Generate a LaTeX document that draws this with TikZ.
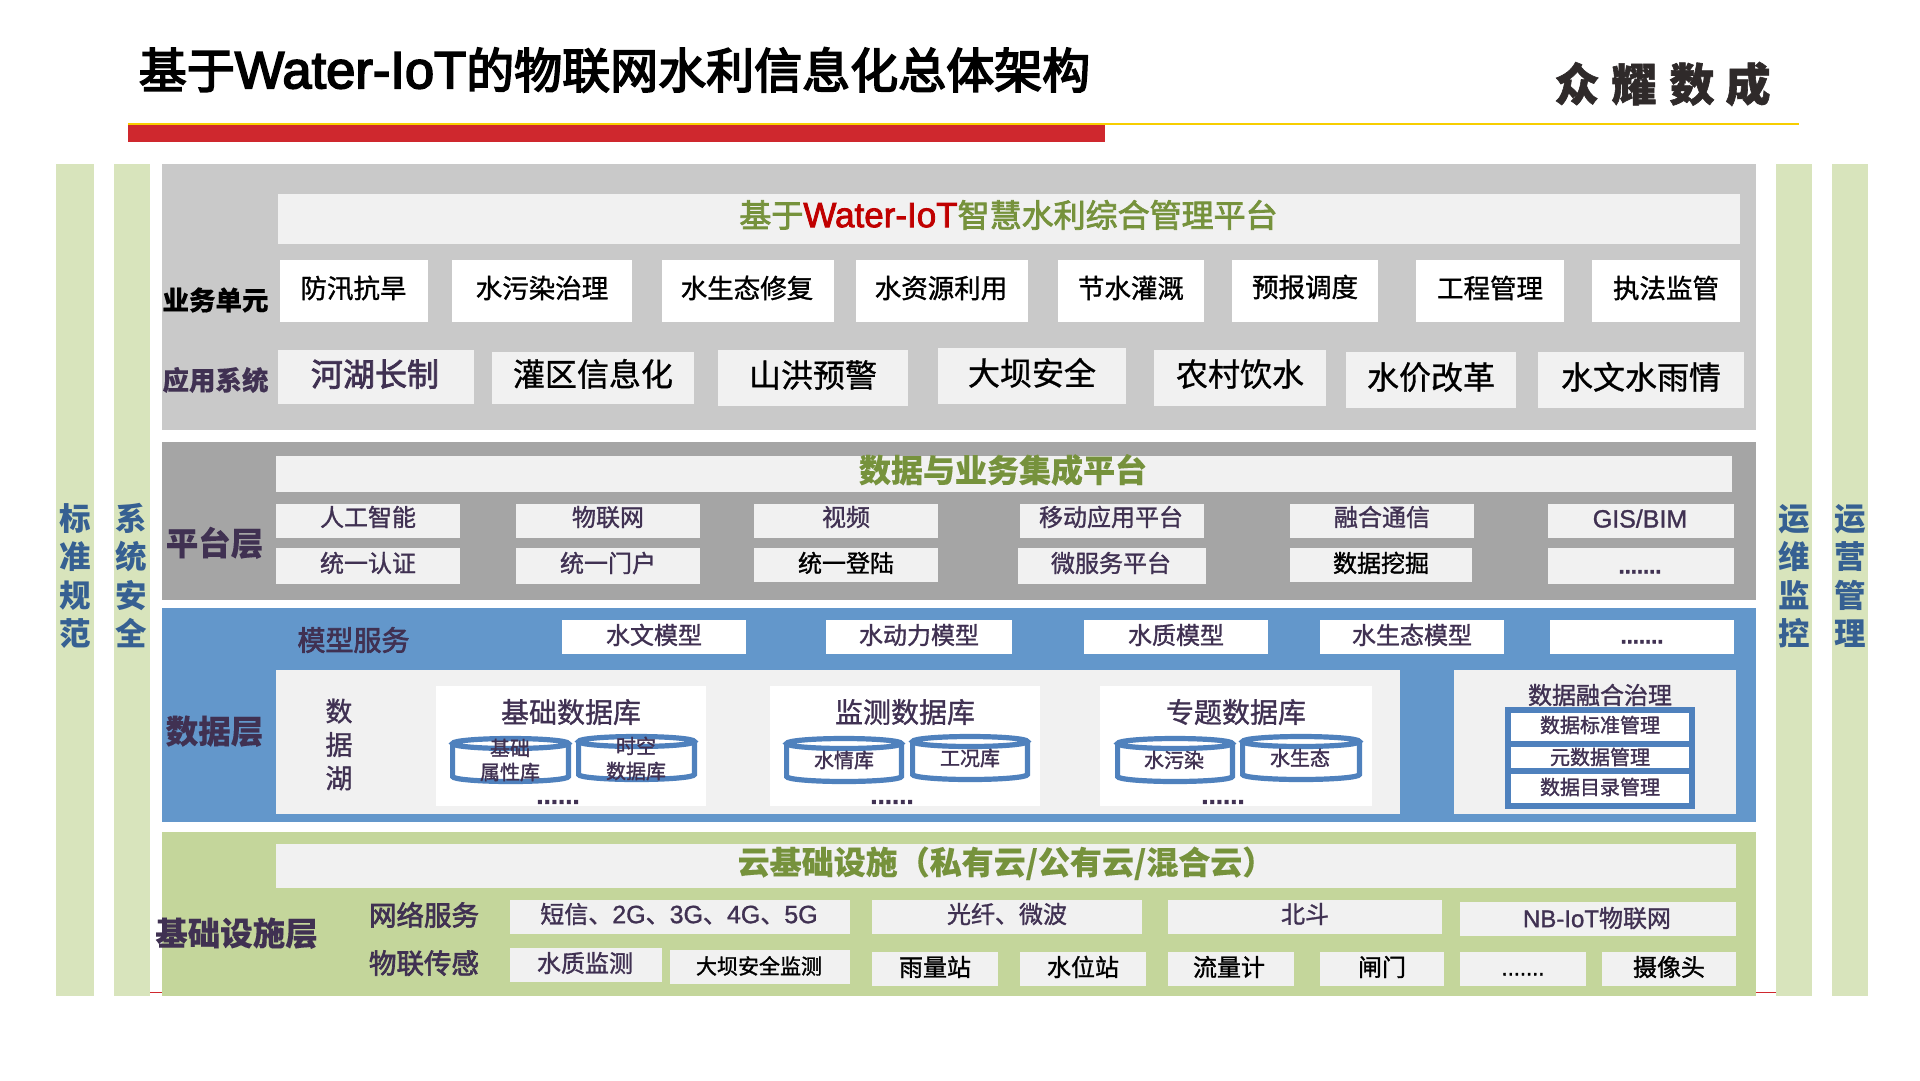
\documentclass[tikz,border=0pt]{standalone}
\usepackage{fontspec}
\setmainfont{Noto Sans CJK SC}
\newfontfamily\heavy{Noto Sans CJK SC Black}
\newfontfamily\lat{Liberation Sans}
\definecolor{sidegreen}{HTML}{D8E4BC}
\definecolor{panelgray}{HTML}{C9C9C9}
\definecolor{platgray}{HTML}{A5A5A5}
\definecolor{datablue}{HTML}{6397CB}
\definecolor{infragreen}{HTML}{C4D69B}
\definecolor{pale}{HTML}{F1F1F1}
\definecolor{ink}{HTML}{403152}
\definecolor{olive}{HTML}{76923C}
\definecolor{sideblue}{HTML}{366092}
\definecolor{cylblue}{HTML}{4F81BD}
\definecolor{barred}{HTML}{CF282E}
\definecolor{baryellow}{HTML}{F7CE00}
\definecolor{logoink}{HTML}{2F2A2A}
\definecolor{wred}{HTML}{C00000}
\tikzset{
  x=1pt,y=-1pt,
  bxs/.style={rectangle,draw=none,inner sep=0pt,outer sep=0pt},
  sidebar/.style={bxs,fill=sidegreen},
  paleb/.style={bxs,fill=pale},
  whiteb/.style={bxs,fill=white},
  txt/.style={inner sep=0pt,outer sep=0pt,text=ink,anchor=center},
  blk/.style={txt,text=black},
  cylring/.style={draw=cylblue,line width=5.2pt,fill=none},
}
\newcommand\wt[1]{\special{pdf:code #1 w}}
\newcommand\embon{\special{pdf:code 2 Tr 0.3 w}}
\newcommand\emboff{\special{pdf:code 0 Tr 1 w}}
\newcommand\st[1]{\rule[-.12em]{0pt}{1em}\smash{#1}}
\newcommand\bx[6]{\node[#6,minimum width={(#4-#2)*1pt},minimum height={(#5-#3)*1pt}] (#1) at ({(#2+#4)/2},{(#3+#5)/2}) {};}
\newcommand\tx[6]{\node[#4] (#1) at (#2,#3) {\fontsize{#5pt}{#5pt}\selectfont\embon\st{#6}\emboff};}
\newcommand\vtx[9]{\node[txt,align=center,#4,font={\fontsize{#5pt}{#6pt}\selectfont #7}] (#1) at (#2,#3) {#8\\#9};}
\newcommand\cyl[5]{%
  \pgfmathsetmacro\cxl{#1+2.6}\pgfmathsetmacro\cxr{#3-2.6}%
  \pgfmathsetmacro\cyt{#2+7.5}\pgfmathsetmacro\cyb{#4-7.5}%
  \pgfmathsetmacro\crx{(#3-#1)/2-2.6}%
  \draw[cylring] ({(#1+#3)/2},\cyt) ellipse [x radius=\crx,y radius=5];
  \draw[cylring] (\cxl,\cyt) -- (\cxl,\cyb) arc[start angle=180,end angle=360,x radius=\crx,y radius=-5] -- (\cxr,\cyt);
}
\begin{document}
\begin{tikzpicture}
\useasboundingbox (0,0) rectangle (1920,1080);
\fill[white] (0,0) rectangle (1920,1080);
% header
\tx{title}{614.5}{70}{blk}{48}{\wt{1.7}基于{\lat\fontsize{52.5pt}{52.5pt}\selectfont Water-IoT}的物联网水利信息化总体架构}
\bx{redbar}{128}{125}{1105}{142}{bxs,fill=barred}
\bx{yellowbar}{128}{123.3}{1799}{125}{bxs,fill=baryellow}
\tx{logoa}{1577}{84}{txt,text=logoink}{45}{\wt{0.6}\heavy 众}
\tx{logob}{1634}{84}{txt,text=logoink}{45}{\wt{0.6}\heavy 耀}
\tx{logoc}{1692}{84}{txt,text=logoink}{45}{\wt{0.6}\heavy 数}
\tx{logod}{1748}{84}{txt,text=logoink}{45}{\wt{0.6}\heavy 成}
% thin red rule behind the columns
\coordinate (rulea) at (140,992);
\coordinate (ruleb) at (1790,992);
\draw[barred,line width=1pt] (rulea) -- (ruleb);
% side columns
\bx{s1}{56}{164}{94}{996}{sidebar}
\bx{s2}{114}{164}{150}{996}{sidebar}
\bx{s3}{1776}{164}{1812}{996}{sidebar}
\bx{s4}{1832}{164}{1868}{996}{sidebar}
\vtx{s1t}{75}{576}{text=sideblue}{31.5}{38.5}{\bfseries}{\st{标}\\\st{准}\\\st{规}}{\st{范}}
\vtx{s2t}{131}{576}{text=sideblue}{31.5}{38.5}{\bfseries}{\st{系}\\\st{统}\\\st{安}}{\st{全}}
\vtx{s3t}{1794}{576}{text=sideblue}{31.5}{38.5}{\bfseries}{\st{运}\\\st{维}\\\st{监}}{\st{控}}
\vtx{s4t}{1850}{576}{text=sideblue}{31.5}{38.5}{\bfseries}{\st{运}\\\st{营}\\\st{管}}{\st{理}}
% layer panels
\bx{p1}{162}{164}{1756}{430}{bxs,fill=panelgray}
\bx{p2}{162}{442}{1756}{600}{bxs,fill=platgray}
\bx{p3}{162}{608}{1756}{822}{bxs,fill=datablue}
\bx{p4}{162}{832}{1756}{996}{bxs,fill=infragreen}
% business layer
\bx{b0}{278}{194}{1740}{244}{paleb}
\tx{b0t}{1008.5}{215}{txt,text=olive}{32}{\wt{0.8}基于{\lat\fontsize{35pt}{35pt}\selectfont\textcolor{wred}{Water-IoT}}智慧水利综合管理平台}
\tx{l1}{215.5}{300}{blk}{26.5}{\wt{0.05}\bfseries 业务单元}
\tx{l2}{215.5}{380}{txt}{26.5}{\wt{0.05}\bfseries 应用系统}
\bx{u1}{280}{260}{428}{322}{whiteb}\tx{u1t}{353.5}{288}{blk}{26.5}{防汛抗旱}
\bx{u2}{452}{260}{632}{322}{whiteb}\tx{u2t}{542}{288}{blk}{26.5}{水污染治理}
\bx{u3}{662}{260}{834}{322}{whiteb}\tx{u3t}{747}{288}{blk}{26.5}{水生态修复}
\bx{u4}{856}{260}{1028}{322}{whiteb}\tx{u4t}{941}{288}{blk}{26.5}{水资源利用}
\bx{u5}{1058}{260}{1204}{322}{whiteb}\tx{u5t}{1131}{288}{blk}{26.5}{节水灌溉}
\bx{u6}{1232}{260}{1378}{322}{whiteb}\tx{u6t}{1305}{287}{blk}{26.5}{预报调度}
\bx{u7}{1416}{260}{1564}{322}{whiteb}\tx{u7t}{1490}{288}{blk}{26.5}{工程管理}
\bx{u8}{1592}{260}{1740}{322}{whiteb}\tx{u8t}{1666}{288}{blk}{26.5}{执法监管}
\bx{a1}{278}{350}{474}{404}{paleb}\tx{a1t}{375}{374}{txt}{32}{\wt{0.8}河湖长制}
\bx{a2}{492}{352}{694}{404}{paleb}\tx{a2t}{593}{374}{blk}{32}{灌区信息化}
\bx{a3}{718}{350}{908}{406}{paleb}\tx{a3t}{813}{375}{blk}{32}{山洪预警}
\bx{a4}{938}{348}{1126}{404}{paleb}\tx{a4t}{1032}{373}{blk}{32}{大坝安全}
\bx{a5}{1154}{350}{1326}{406}{paleb}\tx{a5t}{1240}{374}{blk}{32}{农村饮水}
\bx{a6}{1346}{352}{1516}{408}{paleb}\tx{a6t}{1431}{377}{blk}{32}{水价改革}
\bx{a7}{1538}{352}{1744}{408}{paleb}\tx{a7t}{1641}{377}{blk}{32}{水文水雨情}
% platform layer
\bx{m0}{276}{456}{1732}{492}{paleb}
\tx{m0t}{1003}{470}{txt,text=olive}{32}{\wt{0.05}\bfseries 数据与业务集成平台}
\tx{l3}{214.5}{543}{txt}{32.5}{\wt{0.05}\bfseries 平台层}
\bx{m1}{276}{504}{460}{538}{paleb}\tx{m1t}{368}{517}{txt}{24}{人工智能}
\bx{m2}{516}{504}{700}{538}{paleb}\tx{m2t}{608}{517}{txt}{24}{物联网}
\bx{m3}{754}{504}{938}{538}{paleb}\tx{m3t}{846}{517}{txt}{24}{视频}
\bx{m4}{1020}{504}{1204}{538}{paleb}\tx{m4t}{1111}{517}{txt}{24}{移动应用平台}
\bx{m5}{1290}{504}{1474}{538}{paleb}\tx{m5t}{1382}{517}{txt}{24}{融合通信}
\bx{m6}{1548}{504}{1734}{538}{paleb}\tx{m6t}{1640}{518}{txt}{25}{\lat GIS/BIM}
\bx{n1}{276}{548}{460}{584}{paleb}\tx{n1t}{368}{563}{txt}{24}{统一认证}
\bx{n2}{516}{548}{700}{584}{paleb}\tx{n2t}{608}{563}{txt}{24}{统一门户}
\bx{n3}{754}{548}{938}{582}{paleb}\tx{n3t}{846}{563}{blk}{24}{统一登陆}
\bx{n4}{1018}{548}{1206}{584}{paleb}\tx{n4t}{1111}{563}{txt}{24}{微服务平台}
\bx{n5}{1290}{548}{1472}{582}{paleb}\tx{n5t}{1381}{563}{blk}{24}{数据挖掘}
\bx{n6}{1548}{548}{1734}{584}{paleb}\tx{n6t}{1640}{565}{txt}{22}{\lat\bfseries .......}
% data layer
\tx{l4}{353.5}{640}{txt}{28}{\wt{0.7}模型服务}
\tx{l5}{214.5}{731}{txt}{32.5}{\wt{0.05}\bfseries 数据层}
\bx{k1}{562}{620}{746}{654}{whiteb}\tx{k1t}{654}{635}{txt}{24}{水文模型}
\bx{k2}{826}{620}{1012}{654}{whiteb}\tx{k2t}{919}{635}{txt}{24}{水动力模型}
\bx{k3}{1084}{620}{1268}{654}{whiteb}\tx{k3t}{1176}{635}{txt}{24}{水质模型}
\bx{k4}{1320}{620}{1504}{654}{whiteb}\tx{k4t}{1412}{635}{txt}{24}{水生态模型}
\bx{k5}{1550}{620}{1734}{654}{whiteb}\tx{k5t}{1642}{635}{txt}{22}{\lat\bfseries .......}
\bx{lake}{276}{670}{1400}{814}{paleb}
\bx{gov}{1454}{670}{1736}{814}{paleb}
\vtx{lakeh}{339}{744.5}{}{27}{33.5}{}{\embon\st{数}\\\st{据}}{\st{湖}\emboff}
\bx{d1}{436}{686}{706}{806}{whiteb}
\bx{d2}{770}{686}{1040}{806}{whiteb}
\bx{d3}{1100}{686}{1372}{806}{whiteb}
\tx{d1t}{571}{712}{txt}{28}{基础数据库}
\tx{d2t}{905}{712}{txt}{28}{监测数据库}
\tx{d3t}{1236}{712}{txt}{28}{专题数据库}
\cyl{450}{736}{571}{784}{}
\cyl{576}{734}{697}{782}{}
\cyl{784}{736}{904}{784}{}
\cyl{910}{734}{1030}{782}{}
\cyl{1115}{736}{1235}{784}{}
\cyl{1240}{734}{1362}{782}{}
\tx{c1a}{510}{748}{txt}{20}{基础}
\tx{c1b}{510}{772}{txt}{20}{属性库}
\tx{c2a}{636}{746}{txt}{20}{时空}
\tx{c2b}{636}{771}{txt}{20}{数据库}
\tx{c3}{844}{760}{txt}{20}{水情库}
\tx{c4}{970}{758}{txt}{20}{工况库}
\tx{c5}{1174}{760}{txt}{20}{水污染}
\tx{c6}{1300}{758}{txt}{20}{水生态}
\tx{e1}{558}{794}{txt}{26}{\lat\bfseries ......}
\tx{e2}{892}{794}{txt}{26}{\lat\bfseries ......}
\tx{e3}{1223}{794}{txt}{26}{\lat\bfseries ......}
\tx{govt}{1600}{695}{txt}{24}{数据融合治理}
\bx{frame}{1505}{707}{1695}{809}{bxs,fill=cylblue}
\bx{g1}{1511}{713}{1689}{741}{whiteb}\tx{g1t}{1600}{725}{txt}{20}{数据标准管理}
\bx{g2}{1511}{747}{1689}{768}{whiteb}\tx{g2t}{1600}{757}{txt}{20}{元数据管理}
\bx{g3}{1511}{774}{1689}{803}{whiteb}\tx{g3t}{1600}{787}{txt}{20}{数据目录管理}
% infrastructure layer
\bx{i0}{276}{844}{1736}{888}{paleb}
\tx{i0t}{1006}{862}{txt,text=olive}{32}{\wt{0.05}\bfseries 云基础设施（私有云/公有云/混合云）}
\tx{l6}{236.5}{933}{txt}{32.5}{\wt{0.05}\bfseries 基础设施层}
\tx{l7}{424}{915}{txt}{27.5}{\wt{0.7}网络服务}
\tx{l8}{424}{963}{txt}{27.5}{\wt{0.7}物联传感}
\bx{w1}{510}{900}{850}{934}{paleb}\tx{w1t}{679}{914}{txt}{24}{短信、{\lat\fontsize{25pt}{25pt}\selectfont 2G}、{\lat\fontsize{25pt}{25pt}\selectfont 3G}、{\lat\fontsize{25pt}{25pt}\selectfont 4G}、{\lat\fontsize{25pt}{25pt}\selectfont 5G}}
\bx{w2}{872}{900}{1142}{934}{paleb}\tx{w2t}{1007}{914}{txt}{24}{光纤、微波}
\bx{w3}{1168}{900}{1442}{934}{paleb}\tx{w3t}{1305}{914}{txt}{24}{北斗}
\bx{w4}{1460}{902}{1736}{936}{paleb}\tx{w4t}{1597}{918}{txt}{24}{{\lat NB-IoT}物联网}
\bx{v1}{510}{948}{662}{982}{paleb}\tx{v1t}{585}{963}{txt}{24}{水质监测}
\bx{v2}{670}{950}{850}{984}{paleb}\tx{v2t}{759}{966}{blk}{21}{大坝安全监测}
\bx{v3}{872}{952}{998}{986}{paleb}\tx{v3t}{935}{967}{blk}{24}{雨量站}
\bx{v4}{1020}{952}{1146}{986}{paleb}\tx{v4t}{1083}{967}{blk}{24}{水位站}
\bx{v5}{1168}{952}{1294}{986}{paleb}\tx{v5t}{1229}{967}{blk}{24}{流量计}
\bx{v6}{1320}{952}{1444}{986}{paleb}\tx{v6t}{1382}{967}{blk}{24}{闸门}
\bx{v7}{1460}{952}{1586}{986}{paleb}\tx{v7t}{1523}{967}{blk}{22}{\lat .......}
\bx{v8}{1602}{952}{1736}{986}{paleb}\tx{v8t}{1669}{967}{blk}{24}{摄像头}
\end{tikzpicture}
\end{document}
